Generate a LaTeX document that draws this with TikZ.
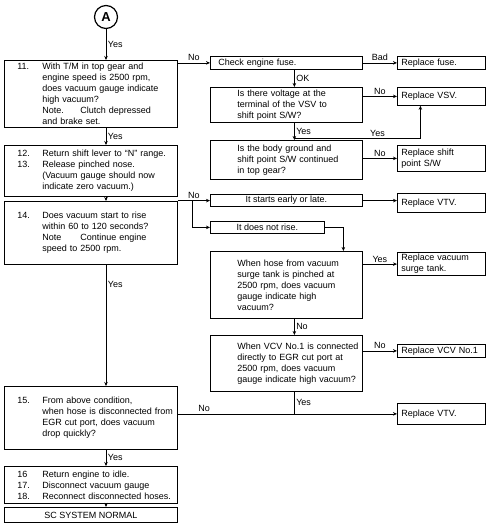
\documentclass[tikz,border=0pt]{standalone}
\usepackage{fontspec}
\setmainfont{Liberation Sans}
\usetikzlibrary{arrows.meta}
\hyphenpenalty=10000
\newcommand{\itemno}[1]{\leavevmode\llap{\makebox[25pt][l]{#1}}}

\begin{document}
\begin{tikzpicture}[x=1pt,y=-1pt,
    font=\fontsize{9}{11}\selectfont,
    leftbox/.style={draw, line width=.8pt, anchor=north west, text width=165pt, inner xsep=4pt, inner ysep=2pt, align=left, execute at begin node={\leftskip=34pt}},
    qbox/.style={draw, line width=.8pt, anchor=north west, text width=148pt, inner xsep=2pt, inner ysep=2pt, align=left, execute at begin node={\leftskip=25pt}},
    rbox/.style={draw, line width=.8pt, anchor=north west, text width=80pt, inner xsep=4pt, inner ysep=2pt, align=left},
    cbox/.style={draw, line width=.8pt, anchor=north west, inner sep=2pt, align=center},
    arr/.style={line width=.7pt, -{Stealth[length=4pt,width=3.5pt]}},
    conn/.style={line width=.7pt},
    lbl/.style={inner sep=1.5pt}]
    \useasboundingbox (0,0) rectangle (497,531);
    % start
    \node[draw, circle, line width=1.2pt, minimum size=23pt, inner sep=0pt, font=\fontsize{13}{13}\selectfont\bfseries] (A) at (106,17) {A};
    % left column
    \node[leftbox, minimum height=67pt] (b11) at (4,60) {\itemno{11.}With T/M in top gear and\\ engine speed is 2500 rpm,\\ does vacuum gauge indicate\\ high vacuum?\\ \makebox[38pt][l]{Note.}Clutch depressed\\ and brake set.};
    \node[leftbox, minimum height=51pt] (b12) at (4,145) {\itemno{12.}Return shift lever to ``N'' range.\\ \itemno{13.}Release pinched nose.\\ (Vacuum gauge should now\\ indicate zero vacuum.)};
    \node[leftbox, minimum height=63pt] (b14) at (4,201) {\itemno{14.}Does vacuum start to rise\\ within 60 to 120 seconds?\\ \makebox[38pt][l]{Note}Continue engine\\ speed to 2500 rpm.};
    \node[leftbox, minimum height=63pt] (b15) at (4,386) {\itemno{15.}From above condition,\\ when hose is disconnected from\\ EGR cut port, does vacuum\\ drop quickly?};
    \node[leftbox, minimum height=37pt] (b16) at (4,466) {\itemno{16}Return engine to idle.\\ \itemno{17.}Disconnect vacuum gauge\\ \itemno{18.}Reconnect disconnected hoses.};
    \node[cbox, minimum width=173pt, minimum height=15pt] (sc) at (4,507) {SC SYSTEM NORMAL};
    % right column
    \node[qbox, minimum height=13pt, execute at begin node={\leftskip=6pt}] (chk) at (210,56) {Check engine fuse.};
    \node[rbox, minimum height=13pt] (fuse) at (397,56) {Replace fuse.};
    \node[qbox, minimum height=35pt] (vsv) at (210,87) {Is there voltage at the\\ terminal of the VSV to\\ shift point S/W?};
    \node[rbox, minimum height=18pt] (rvsv) at (397,87) {Replace VSV.};
    \node[qbox, minimum height=39pt] (bg) at (210,140) {Is the body ground and\\ shift point S/W continued\\ in top gear?};
    \node[rbox, minimum height=26pt] (rshift) at (397,145) {Replace shift\\ point S/W};
    \node[cbox, minimum width=152pt, minimum height=12pt] (early) at (210,194) {It starts early or late.};
    \node[rbox, minimum height=19pt] (rvtv) at (397,193) {Replace VTV.};
    \node[cbox, minimum width=114pt, minimum height=12pt] (norise) at (210,221) {It does not rise.};
    \node[qbox, minimum height=67pt] (surge) at (210,251) {When hose from vacuum\\ surge tank is pinched at\\ 2500 rpm, does vacuum\\ gauge indicate high\\ vacuum?};
    \node[rbox, minimum height=22pt] (rsurge) at (397,252) {Replace vacuum\\ surge tank.};
    \node[qbox, minimum height=56pt] (vcv) at (210,335) {When VCV No.1 is connected\\ directly to EGR cut port at\\ 2500 rpm, does vacuum\\ gauge indicate high vacuum?};
    \node[rbox, minimum height=13pt] (rvcv) at (397,344) {Replace VCV No.1};
    \node[rbox, minimum height=21pt] (rvtv2) at (397,403) {Replace VTV.};
    % connectors left
    \draw[arr] (A) -- (A |- b11.north) node[lbl, midway, right] {Yes};
    \draw[arr] (A |- b11.south) -- (A |- b12.north) node[lbl, midway, right] {Yes};
    \draw[arr] (A |- b12.south) -- (A |- b14.north);
    \draw[arr] (A |- b14.south) -- (A |- b15.north) node[lbl, pos=.16, right] {Yes};
    \draw[arr] (A |- b15.south) -- (A |- b16.north) node[lbl, midway, right] {Yes};
    \draw[arr] (A |- b16.south) -- (A |- sc.north);
    % connectors right
    \draw[arr] (chk.west -| b11.east) -- (chk.west) node[lbl, midway, above] {No};
    \draw[arr] (chk.east) -- (fuse.west) node[lbl, midway, above] {Bad};
    \draw[arr] ([xshift=8pt]chk.south) -- ([xshift=8pt]vsv.north) node[lbl, midway, right] {OK};
    \draw[arr] (vsv.east |- rvsv.west) -- (rvsv.west) node[lbl, midway, above] {No};
    \draw[arr] ([xshift=8pt]vsv.south) -- ([xshift=8pt]bg.north) node[lbl, midway, right] {Yes};
    \draw[arr] ([xshift=8pt,yshift=2pt]bg.north) -| ([xshift=-21pt]rvsv.south) node[lbl, pos=.33, above] {Yes};
    \draw[arr] (bg.east |- rshift.west) -- (rshift.west) node[lbl, midway, above] {No};
    \draw[arr] (early.west -| b14.east) -- (early.west) node[lbl, midway, above] {No} coordinate[pos=.45] (split);
    \draw[arr] (split) |- (norise.west);
    \draw[arr] (early.east) -- (early.east -| rvtv.west);
    \draw[arr] (norise.east) -| ([xshift=57pt]surge.north);
    \draw[arr] (surge.east |- rsurge.west) -- (rsurge.west) node[lbl, midway, above] {Yes};
    \draw[arr] ([xshift=8pt]surge.south) -- ([xshift=8pt]vcv.north) node[lbl, midway, right] {No};
    \draw[arr] (vcv.east |- rvcv.west) -- (rvcv.west) node[lbl, midway, above] {No};
    \draw[arr] (b15.east |- rvtv2.west) -- (rvtv2.west) node[lbl, pos=.12, above] {No};
    \draw[conn] ([xshift=8pt]vcv.south) -- ([xshift=8pt]vcv.south |- rvtv2.west) node[lbl, midway, right] {Yes};
\end{tikzpicture}
\end{document}
